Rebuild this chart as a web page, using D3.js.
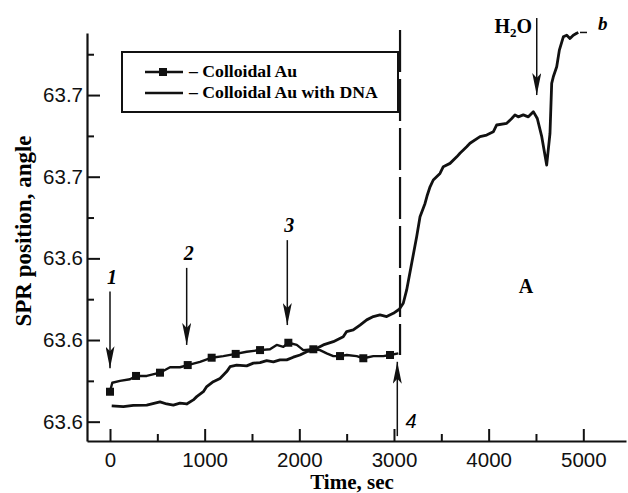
<!DOCTYPE html>
<html>
<head>
<meta charset="utf-8">
<script src="https://cdn.jsdelivr.net/npm/d3@7"></script>
<style>
  body { margin: 0; background: #fff; }
  svg { display: block; }
</style>
</head>
<body>
<div id="chart"></div>
<script>
// data: [time (s), SPR angle]
var auData = [
  [0, 63.5710], [24, 63.5743], [106, 63.5750], [211, 63.5756], [275, 63.5768],
  [388, 63.5768], [528, 63.5780], [634, 63.5800], [739, 63.5800], [821, 63.5808],
  [951, 63.5820], [1074, 63.5835], [1197, 63.5841], [1328, 63.5849], [1444, 63.5857],
  [1585, 63.5863], [1690, 63.5866], [1761, 63.5882], [1831, 63.5875], [1884, 63.5890],
  [1973, 63.5882], [2042, 63.5863], [2148, 63.5866], [2218, 63.5863], [2289, 63.5851],
  [2359, 63.5841], [2430, 63.5841], [2501, 63.5845], [2606, 63.5841], [2676, 63.5833],
  [2782, 63.5841], [2887, 63.5841], [2958, 63.5845], [3046, 63.5851]
];
var auMarkerTimes = [0, 275, 528, 821, 1074, 1328, 1585, 1884, 2148, 2430, 2676, 2958];

var dnaData = [
  [18, 63.5658], [141, 63.5655], [246, 63.5660], [388, 63.5661], [528, 63.5673],
  [599, 63.5665], [669, 63.5661], [739, 63.5668], [810, 63.5665], [880, 63.5680],
  [916, 63.5692], [986, 63.5710], [1022, 63.5729], [1091, 63.5747], [1162, 63.5759],
  [1233, 63.5784], [1268, 63.5802], [1338, 63.5808], [1444, 63.5805], [1514, 63.5815],
  [1585, 63.5817], [1655, 63.5824], [1726, 63.5820], [1796, 63.5827], [1867, 63.5827],
  [1936, 63.5837], [2007, 63.5845], [2078, 63.5857], [2148, 63.5863], [2253, 63.5882],
  [2359, 63.5894], [2464, 63.5912], [2500, 63.5931], [2570, 63.5937], [2641, 63.5955],
  [2712, 63.5974], [2782, 63.5986], [2852, 63.5992], [2923, 63.5986], [2993, 63.5998],
  [3056, 63.6013], [3098, 63.6035], [3134, 63.6084], [3187, 63.6182], [3240, 63.6280],
  [3275, 63.6353], [3328, 63.6402], [3349, 63.6429], [3381, 63.6463], [3415, 63.6488],
  [3486, 63.6512], [3521, 63.6537], [3592, 63.6549], [3663, 63.6573], [3697, 63.6586],
  [3768, 63.6610], [3803, 63.6623], [3909, 63.6647], [3979, 63.6653], [4049, 63.6665],
  [4085, 63.6690], [4191, 63.6696], [4244, 63.6714], [4278, 63.6727], [4313, 63.6720],
  [4366, 63.6727], [4419, 63.6720], [4472, 63.6739], [4514, 63.6714], [4561, 63.6647],
  [4613, 63.6543], [4648, 63.6659], [4666, 63.6843], [4683, 63.6867], [4719, 63.6904],
  [4747, 63.6965], [4789, 63.7014], [4825, 63.7020], [4859, 63.7008], [4894, 63.7020],
  [4930, 63.7027], [4947, 63.7030]
];

var xTicks = [0, 1000, 2000, 3000, 4000, 5000];
var xMinorTicks = [500, 1500, 2500, 3500, 4500];
var yTicks = [63.56, 63.59, 63.62, 63.65, 63.68];
var yMinorTicks = [63.575, 63.605, 63.635, 63.665, 63.695];
var yTickLabels = ["63.6", "63.6", "63.6", "63.7", "63.7"];
var legendLabels = ["\u2013 Colloidal Au", "\u2013 Colloidal Au with DNA"];

// step markers: time, arrow start/end value, label
var steps = [
  { t: 0, from: 63.6078, to: 63.5796, label: "1" },
  { t: 810, from: 63.6165, to: 63.5882, label: "2" },
  { t: 1873, from: 63.6267, to: 63.5955, label: "3" }
];
var injectTime = 3064;

var W = 628, H = 493;
var margin = { top: 33, right: 2, bottom: 52, left: 87 };

var svg = d3.select("#chart")
  .append("svg")
  .attr("width", W).attr("height", H);

// narrow filled arrow head, tip at the line end
svg.append("defs").append("marker")
  .attr("id", "head")
  .attr("viewBox", "0 0 22 9")
  .attr("refX", 22).attr("refY", 4.5)
  .attr("markerWidth", 22).attr("markerHeight", 9)
  .attr("markerUnits", "userSpaceOnUse")
  .attr("orient", "auto")
  .append("path")
  .attr("d", "M0,0 L22,4.5 L0,9 L5,4.5 Z")
  .attr("fill", "#111");

var x = d3.scaleLinear().domain([-243, 5451]).range([margin.left, W - margin.right]);
var y = d3.scaleLinear().domain([63.5529, 63.7028]).range([H - margin.bottom, margin.top]);

var sans = "'Liberation Sans', Arial, sans-serif";
var serif = "'Liberation Serif', 'Times New Roman', serif";

// axes
svg.append("g")
  .attr("transform", "translate(0," + (H - margin.bottom) + ")")
  .call(d3.axisBottom(x).tickValues(xTicks).tickSize(-12).tickSizeOuter(0).tickPadding(11).tickFormat(d3.format("d")));
svg.append("g")
  .attr("transform", "translate(0," + (H - margin.bottom) + ")")
  .call(d3.axisBottom(x).tickValues(xMinorTicks).tickSize(-7).tickSizeOuter(0).tickFormat(""))
  .select(".domain").remove();

svg.append("g")
  .attr("transform", "translate(" + margin.left + ",0)")
  .call(d3.axisLeft(y).tickValues(yTicks).tickSize(-13).tickSizeOuter(0).tickPadding(4)
    .tickFormat(function (d, i) { return yTickLabels[i]; }));
svg.append("g")
  .attr("transform", "translate(" + margin.left + ",0)")
  .call(d3.axisLeft(y).tickValues(yMinorTicks).tickSize(-7).tickSizeOuter(0).tickFormat(""))
  .select(".domain").remove();

svg.selectAll(".domain").attr("stroke", "#111").attr("stroke-width", 2.2);
svg.selectAll(".tick line").attr("stroke", "#111").attr("stroke-width", 2);
svg.selectAll(".tick text")
  .attr("font-family", sans).attr("font-size", 20.5).attr("fill", "#111");

// axis titles
svg.append("text")
  .attr("x", 352).attr("y", 489)
  .attr("text-anchor", "middle")
  .attr("font-family", serif).attr("font-weight", "bold").attr("font-size", 21)
  .text("Time, sec");

svg.append("text")
  .attr("transform", "translate(31,231) rotate(-90)")
  .attr("text-anchor", "middle")
  .attr("font-family", serif).attr("font-weight", "bold").attr("font-size", 23)
  .text("SPR position, angle");

// dashed line at the injection
svg.append("line")
  .attr("x1", x(injectTime)).attr("x2", x(injectTime))
  .attr("y1", y(63.7039)).attr("y2", y(63.5845))
  .attr("stroke", "#111").attr("stroke-width", 2.2)
  .attr("stroke-dasharray", "42,7");

// curves
var line = d3.line()
  .x(function (d) { return x(d[0]); })
  .y(function (d) { return y(d[1]); });

svg.append("path")
  .datum(auData)
  .attr("d", line)
  .attr("fill", "none").attr("stroke", "#111").attr("stroke-width", 2.4)
  .attr("stroke-linejoin", "round");

svg.append("path")
  .datum(dnaData)
  .attr("d", line)
  .attr("fill", "none").attr("stroke", "#111").attr("stroke-width", 2.8)
  .attr("stroke-linejoin", "round");

svg.selectAll(".sq")
  .data(auData.filter(function (d) { return auMarkerTimes.indexOf(d[0]) >= 0; }))
  .enter().append("rect")
  .attr("class", "sq")
  .attr("x", function (d) { return x(d[0]) - 4; })
  .attr("y", function (d) { return y(d[1]) - 4; })
  .attr("width", 8).attr("height", 8)
  .attr("fill", "#111");

// step arrows 1-3
steps.forEach(function (s) {
  svg.append("line")
    .attr("x1", x(s.t)).attr("x2", x(s.t))
    .attr("y1", y(s.from)).attr("y2", y(s.to))
    .attr("stroke", "#111").attr("stroke-width", 1.5)
    .attr("marker-end", "url(#head)");
  svg.append("text")
    .attr("x", x(s.t) + 2).attr("y", y(s.from) - 8)
    .attr("text-anchor", "middle")
    .attr("font-family", serif).attr("font-style", "italic").attr("font-weight", "bold").attr("font-size", 20)
    .text(s.label);
});

// arrow 4, pointing up
svg.append("line")
  .attr("x1", x(3035)).attr("x2", x(3035))
  .attr("y1", y(63.5547)).attr("y2", y(63.5820))
  .attr("stroke", "#111").attr("stroke-width", 1.5)
  .attr("marker-end", "url(#head)");
svg.append("text")
  .attr("x", x(3180)).attr("y", y(63.5577))
  .attr("text-anchor", "middle")
  .attr("font-family", sans).attr("font-style", "italic").attr("font-size", 20)
  .text("4");

// water arrow
svg.append("line")
  .attr("x1", x(4508)).attr("x2", x(4508))
  .attr("y1", y(63.7083)).attr("y2", y(63.6800))
  .attr("stroke", "#111").attr("stroke-width", 1.5)
  .attr("marker-end", "url(#head)");
var h2o = svg.append("text")
  .attr("x", x(4458)).attr("y", y(63.7027))
  .attr("text-anchor", "end")
  .attr("font-family", serif).attr("font-weight", "bold").attr("font-size", 20);
h2o.append("tspan").text("H");
h2o.append("tspan").attr("font-size", 13).attr("dy", 4).text("2");
h2o.append("tspan").attr("dy", -4).text("O");

// curve label b
svg.append("line")
  .attr("x1", x(4965)).attr("x2", x(5039))
  .attr("y1", y(63.7030)).attr("y2", y(63.7030))
  .attr("stroke", "#111").attr("stroke-width", 1.5);
svg.append("text")
  .attr("x", x(5155)).attr("y", y(63.7038))
  .attr("font-family", serif).attr("font-style", "italic").attr("font-weight", "bold").attr("font-size", 19)
  .text("b");

// panel letter
svg.append("text")
  .attr("x", x(4395)).attr("y", y(63.6073))
  .attr("text-anchor", "middle")
  .attr("font-family", serif).attr("font-weight", "bold").attr("font-size", 20)
  .text("A");

// legend
var legend = svg.append("g");
legend.append("rect")
  .attr("x", 122).attr("y", 52).attr("width", 276).attr("height", 60)
  .attr("fill", "#fff").attr("stroke", "#111").attr("stroke-width", 2);

legend.selectAll(".lg")
  .data(legendLabels)
  .enter().append("g")
  .attr("class", "lg")
  .attr("transform", function (d, i) { return "translate(0," + (72 + i * 21) + ")"; })
  .each(function (d, i) {
    var g = d3.select(this);
    g.append("line")
      .attr("x1", 145).attr("x2", 183).attr("y1", 0).attr("y2", 0)
      .attr("stroke", "#111").attr("stroke-width", 2.4);
    if (i === 0) {
      g.append("rect").attr("x", 159).attr("y", -4).attr("width", 8).attr("height", 8).attr("fill", "#111");
    }
    g.append("text")
      .attr("x", 189).attr("y", 5)
      .attr("font-family", serif).attr("font-weight", "bold").attr("font-size", 17.7)
      .text(d);
  });
</script>
</body>
</html>
